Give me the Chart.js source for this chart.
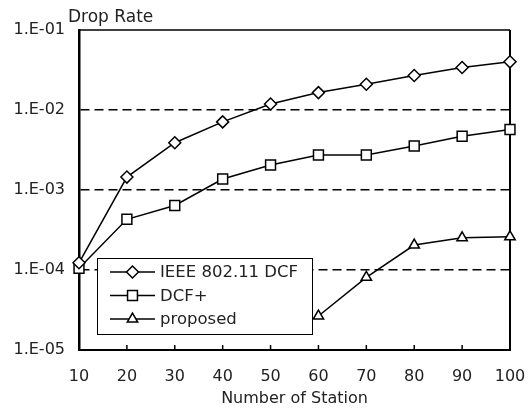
<!DOCTYPE html>
<html>
<head>
<meta charset="utf-8">
<script src="https://cdn.jsdelivr.net/npm/chart.js@4/dist/chart.umd.min.js"></script>
<style>
html, body { margin: 0; background: #fff; }
</style>
</head>
<body>
<canvas id="chart1" width="531" height="410"></canvas>
<script>
// values
const stations = [10, 20, 30, 40, 50, 60, 70, 80, 90, 100];
const ieeeDcf = [1.23e-4, 1.45e-3, 3.9e-3, 7.1e-3, 1.19e-2, 1.65e-2, 2.1e-2, 2.7e-2, 3.4e-2, 4.0e-2];
const dcfPlus = [1.05e-4, 4.3e-4, 6.4e-4, 1.37e-3, 2.05e-3, 2.74e-3, 2.74e-3, 3.55e-3, 4.7e-3, 5.7e-3];
const proposed = [null, null, null, null, null, 2.66e-5, 8.1e-5, 2.05e-4, 2.53e-4, 2.6e-4];
const seriesNames = ['IEEE 802.11 DCF', 'DCF+', 'proposed'];
const yTicks = [1e-5, 1e-4, 1e-3, 1e-2, 1e-1];
const yTickLabels = ['1.E-05', '1.E-04', '1.E-03', '1.E-02', '1.E-01'];

const FONT = 'DejaVu Sans';
const INK = '#222';

function series(label, data, style, radius) {
    return {
        label: label,
        data: data,
        borderColor: '#000',
        borderWidth: 1.5,
        pointStyle: style,
        pointRadius: radius,
        pointBackgroundColor: '#fff',
        pointBorderColor: '#000',
        pointBorderWidth: 1.5,
        tension: 0,
        spanGaps: false,
        clip: false
    };
}

// top/right frame, inner x tick marks
const frame = {
    id: 'frame',
    beforeDatasetsDraw(chart) {
        const {ctx, chartArea: a} = chart;
        ctx.save();
        ctx.strokeStyle = '#000';
        ctx.lineWidth = 1.5;
        ctx.beginPath();
        ctx.moveTo(a.left, a.top);
        ctx.lineTo(a.right, a.top);
        ctx.stroke();
        ctx.lineWidth = 2;
        ctx.beginPath();
        ctx.moveTo(a.right, a.top);
        ctx.lineTo(a.right, a.bottom);
        ctx.stroke();
        const xs = chart.scales.x;
        ctx.lineWidth = 1.5;
        stations.forEach((s, i) => {
            if (i === 0 || i === stations.length - 1) return;
            const px = xs.getPixelForValue(i);
            ctx.beginPath();
            ctx.moveTo(px, a.bottom);
            ctx.lineTo(px, a.bottom - 5);
            ctx.stroke();
        });
        ctx.restore();
    },
    afterDraw(chart) {
        const {ctx, chartArea: a} = chart;
        ctx.save();
        ctx.fillStyle = INK;
        ctx.font = '17px "' + FONT + '"';
        ctx.textBaseline = 'middle';
        ctx.textAlign = 'left';
        ctx.fillText('Drop Rate', a.left - 11, a.top - 12);
        ctx.restore();
    }
};

// legend box sitting inside the plot
const boxLegend = {
    id: 'boxLegend',
    afterDatasetsDraw(chart) {
        const {ctx, chartArea: a} = chart;
        const bx = a.left + 18, by = a.top + 228, bw = 215, bh = 76;
        ctx.save();
        ctx.fillStyle = '#fff';
        ctx.fillRect(bx, by, bw, bh);
        ctx.strokeStyle = '#000';
        ctx.lineWidth = 1;
        ctx.strokeRect(bx + 0.5, by + 0.5, bw, bh);
        chart.data.datasets.forEach((ds, i) => {
            const ry = by + 14 + i * 23.5;
            ctx.strokeStyle = '#000';
            ctx.lineWidth = 1.5;
            ctx.beginPath();
            ctx.moveTo(bx + 13, ry);
            ctx.lineTo(bx + 58, ry);
            ctx.stroke();
            ctx.fillStyle = '#fff';
            Chart.helpers.drawPoint(ctx, {
                pointStyle: ds.pointStyle,
                radius: ds.pointRadius,
                borderWidth: 1.5,
                rotation: 0
            }, bx + 35.5, ry);
            ctx.fillStyle = INK;
            ctx.font = '16.5px "' + FONT + '"';
            ctx.textBaseline = 'middle';
            ctx.fillText(ds.label, bx + 63, ry + 1);
        });
        ctx.restore();
    }
};

new Chart(document.getElementById('chart1'), {
    type: 'line',
    data: {
        labels: stations.map(String),
        datasets: [
            series(seriesNames[0], ieeeDcf, 'rectRot', 6),
            series(seriesNames[1], dcfPlus, 'rect', 7),
            series(seriesNames[2], proposed, 'triangle', 6)
        ]
    },
    options: {
        responsive: false,
        animation: false,
        devicePixelRatio: 1,
        layout: { padding: { top: 30, right: 21, left: 0, bottom: 0 } },
        plugins: { legend: { display: false }, tooltip: { enabled: false } },
        scales: {
            x: {
                type: 'category',
                offset: false,
                afterFit(s) { s.height = 60; s.paddingLeft = 0; s.paddingRight = 0; },
                grid: { display: false, drawTicks: false },
                border: { display: true, color: '#000', width: 2 },
                ticks: {
                    color: INK,
                    font: { family: FONT, size: 16 },
                    padding: 17,
                    maxRotation: 0,
                    autoSkip: false
                },
                title: {
                    display: true,
                    text: 'Number of Station',
                    color: INK,
                    font: { family: FONT, size: 16 },
                    padding: { top: 0, bottom: 2 }
                }
            },
            y: {
                type: 'logarithmic',
                min: yTicks[0],
                max: yTicks[yTicks.length - 1],
                afterFit(s) { s.width = 79; s.paddingTop = 0; s.paddingBottom = 0; },
                afterBuildTicks(s) { s.ticks = yTicks.map(v => ({ value: v })); },
                grid: {
                    drawTicks: false,
                    lineWidth: 1.5,
                    color: c => (c.tick && (c.tick.value === yTicks[0] || c.tick.value === yTicks[yTicks.length - 1])) ? 'rgba(0,0,0,0)' : '#000'
                },
                border: { display: true, color: '#000', width: 2.5, dash: [9, 5] },
                ticks: {
                    color: INK,
                    font: { family: FONT, size: 16 },
                    padding: 14,
                    callback: v => yTickLabels[yTicks.indexOf(v)]
                }
            }
        }
    },
    plugins: [frame, boxLegend]
});
</script>
</body>
</html>
